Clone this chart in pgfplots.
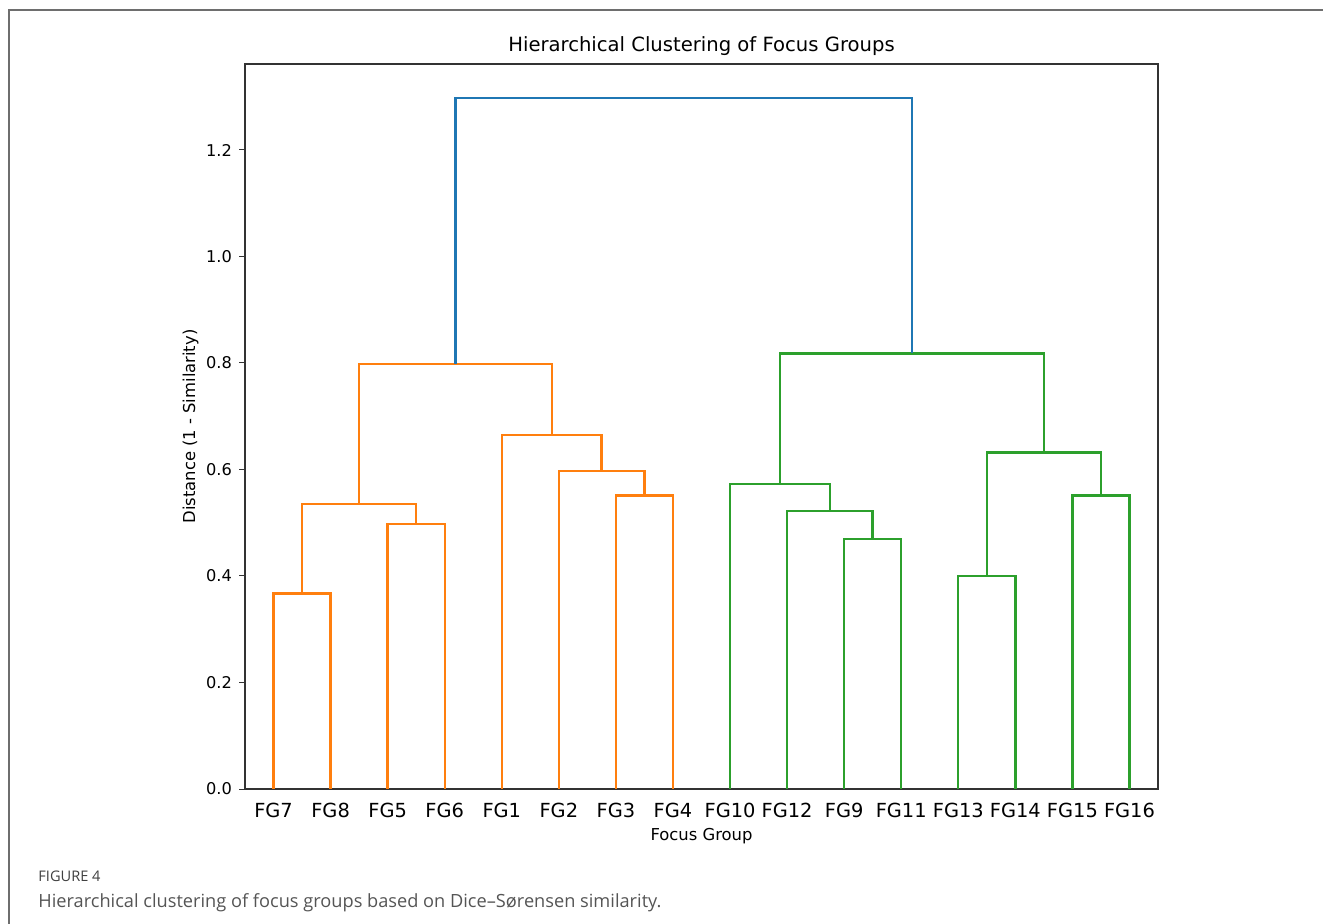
\documentclass[border=0pt]{standalone}
\usepackage{fontspec}
\setmainfont{DejaVu Sans}
\newfontfamily\capfont{Open Sans}
\usepackage{pgfplots}
\pgfplotsset{compat=1.18}
\definecolor{mblue}{HTML}{1F77B4}
\definecolor{morange}{HTML}{FF7F0E}
\definecolor{mgreen}{HTML}{2CA02C}
\definecolor{framegray}{HTML}{6E6E6E}
\definecolor{capgray}{HTML}{555555}
\begin{document}
\begin{tikzpicture}
\path[use as bounding box] (0,0) rectangle (661.5pt,-462pt);
\draw[framegray, line width=1pt] (4.5pt,-462pt) -- (4.5pt,-5pt) -- (661.5pt,-5pt);
\begin{axis}[
  at={(122.5pt,-394.5pt)}, anchor=south west,
  scale only axis, width=456.5pt, height=362.5pt,
  xmin=0, xmax=160, ymin=0, ymax=1.3615,
  axis line style={black!80, line width=0.6pt},
  xtick={5,15,...,155},
  xticklabels={FG7,FG8,FG5,FG6,FG1,FG2,FG3,FG4,FG10,FG12,FG9,FG11,FG13,FG14,FG15,FG16},
  x tick label style={font=\fontsize{9.7}{11}\selectfont, yshift=-0.3pt},
  ytick={0,0.2,0.4,0.6,0.8,1.0,1.2},
  yticklabel style={/pgf/number format/fixed, /pgf/number format/precision=1, /pgf/number format/fixed zerofill, font=\fontsize{8.1}{10}\selectfont},
  /pgf/number format/assume math mode=true,
  tick align=outside,
  ytick pos=left,
  x tick style={draw=none},
  y tick style={black!80, line width=0.5pt},
  major tick length=3pt,
  title={Hierarchical Clustering of Focus Groups},
  title style={font=\fontsize{9.8}{12}\selectfont, yshift=-5.5pt},
  xlabel={Focus Group},
  ylabel={Distance (1 - Similarity)},
  label style={font=\fontsize{8.2}{10}\selectfont},
  xlabel style={yshift=1.5pt},
  ylabel style={yshift=-3pt},
  every axis plot/.append style={line width=1.2pt, line join=miter},
]
% orange cluster
\addplot[morange] coordinates {(5,0) (5,0.3675) (15,0.3675) (15,0)};
\addplot[morange] coordinates {(25,0) (25,0.498) (35,0.498) (35,0)};
\addplot[morange] coordinates {(10,0.3675) (10,0.535) (30,0.535) (30,0.498)};
\addplot[morange] coordinates {(65,0) (65,0.551) (75,0.551) (75,0)};
\addplot[morange] coordinates {(55,0) (55,0.597) (70,0.597) (70,0.551)};
\addplot[morange] coordinates {(45,0) (45,0.665) (62.5,0.665) (62.5,0.597)};
\addplot[morange] coordinates {(20,0.535) (20,0.798) (53.75,0.798) (53.75,0.665)};
% green cluster
\addplot[mgreen] coordinates {(105,0) (105,0.469) (115,0.469) (115,0)};
\addplot[mgreen] coordinates {(95,0) (95,0.5215) (110,0.5215) (110,0.469)};
\addplot[mgreen] coordinates {(85,0) (85,0.573) (102.5,0.573) (102.5,0.5215)};
\addplot[mgreen] coordinates {(125,0) (125,0.4005) (135,0.4005) (135,0)};
\addplot[mgreen] coordinates {(145,0) (145,0.551) (155,0.551) (155,0)};
\addplot[mgreen] coordinates {(130,0.4005) (130,0.632) (150,0.632) (150,0.551)};
\addplot[mgreen] coordinates {(93.75,0.573) (93.75,0.818) (140,0.818) (140,0.632)};
% top link
\addplot[mblue] coordinates {(36.875,0.798) (36.875,1.2975) (116.875,1.2975) (116.875,0.818)};
\end{axis}
\node[anchor=base west, inner sep=0pt, text=black!75, font=\capfont\fontsize{7.3}{9}\selectfont] at (19pt,-440.5pt) {FIGURE 4};
\node[anchor=base west, inner sep=0pt, text=capgray, font=\capfont\fontsize{9.1}{11}\selectfont] at (19pt,-453.5pt) {Hierarchical clustering of focus groups based on Dice–Sørensen similarity.};
\end{tikzpicture}
\end{document}
